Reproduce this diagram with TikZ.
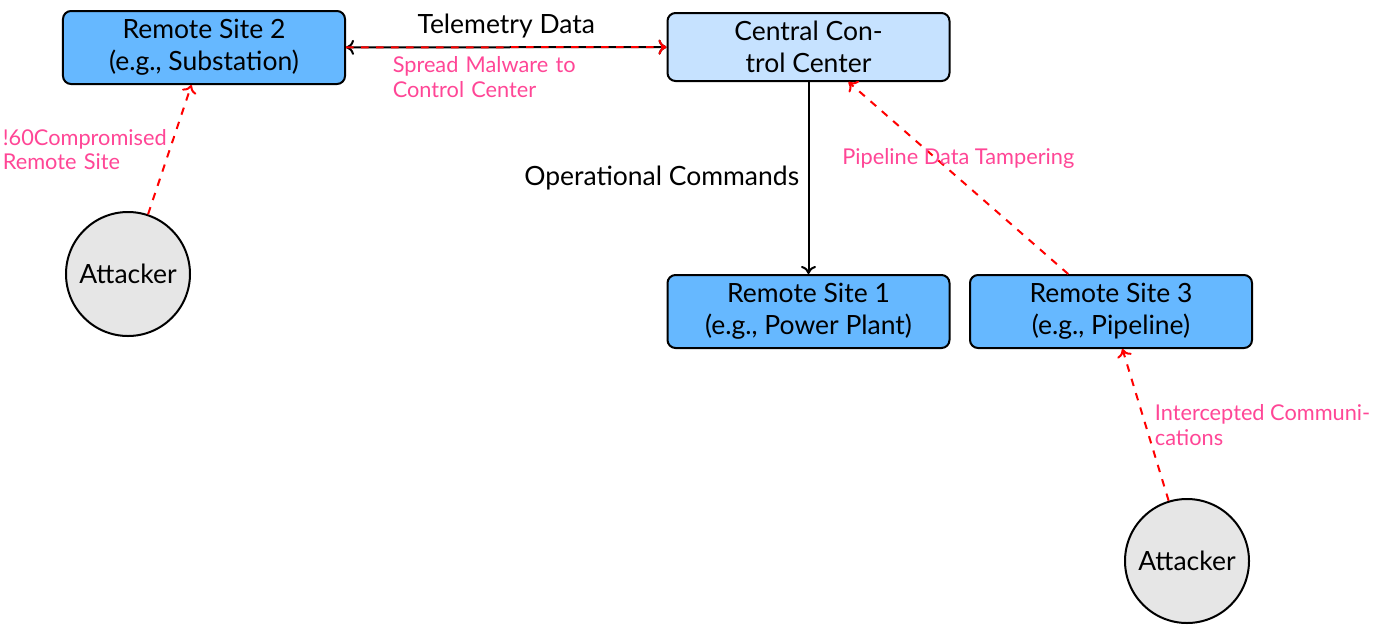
\documentclass[tikz,border=0pt]{standalone}
\usepackage{fontspec}
\setmainfont{Lato}
\usetikzlibrary{arrows.meta}
\definecolor{siteblue}{RGB}{102,184,255}
\definecolor{centreblue}{RGB}{198,226,255}
\definecolor{attackgray}{RGB}{230,230,230}
\definecolor{threatpink}{RGB}{255,70,150}
\begin{document}
\begin{tikzpicture}[x=0.4pt,y=-0.4pt,
  >={To[length=3.2pt,width=6pt]},
  box/.style={draw=black, line width=0.8pt, rounded corners=3.2pt, align=center,
    minimum width=112.8pt, font=\fontsize{10.6}{12.8}\selectfont, inner sep=2pt},
  site/.style={box, fill=siteblue, minimum height=29.2pt},
  centre/.style={box, fill=centreblue, minimum height=27.2pt},
  attacker/.style={circle, draw=black, line width=0.8pt, fill=attackgray,
    minimum size=49.6pt, inner sep=0pt, font=\fontsize{10.6}{12.8}\selectfont},
  conn/.style={draw=black, line width=0.8pt},
  attack/.style={draw=red, line width=0.8pt, dashed},
  blacklbl/.style={font=\fontsize{10.6}{12.8}\selectfont, text=black},
  pinklbl/.style={font=\fontsize{8.7}{9.8}\selectfont, text=threatpink, align=left}]
\useasboundingbox (0,0) rectangle (1380,627);

% control network
\node[site] (rs2) at (204,47.5) {Remote Site 2\\(e.g., Substation)};
\node[centre] (ccc) at (808.5,47) {Central Con-\\trol Center};
\node[site] (rs1) at (808.5,311.5) {Remote Site 1\\(e.g., Power Plant)};
\node[site] (rs3) at (1111,311.5) {Remote Site 3\\(e.g., Pipeline)};

% threat actors
\node[attacker] (att1) at (128,274) {Attacker};
\node[attacker] (att2) at (1187,561) {Attacker};

% normal traffic
\draw[conn,<->] (rs2) -- node[above, blacklbl] {Telemetry Data} (ccc);
\draw[conn,->] (ccc) -- node[left, blacklbl] {Operational Commands} (rs1);

% attack paths
\draw[attack,->] (rs2) -- node[below, pinklbl, text width=90.8pt] {Spread Malware to\\Control Center} (ccc);
\draw[attack,->] (rs3) -- node[above, pinklbl] {Pipeline Data Tampering} (ccc);
\draw[attack,->] (att1) -- node[left, pinklbl, text width=62pt, xshift=-1pt] {!60Compromised\\Remote Site} (rs2);
\draw[attack,->] (att2) -- node[right, pinklbl] {Intercepted Communi-\\cations} (rs3);
\end{tikzpicture}
\end{document}
